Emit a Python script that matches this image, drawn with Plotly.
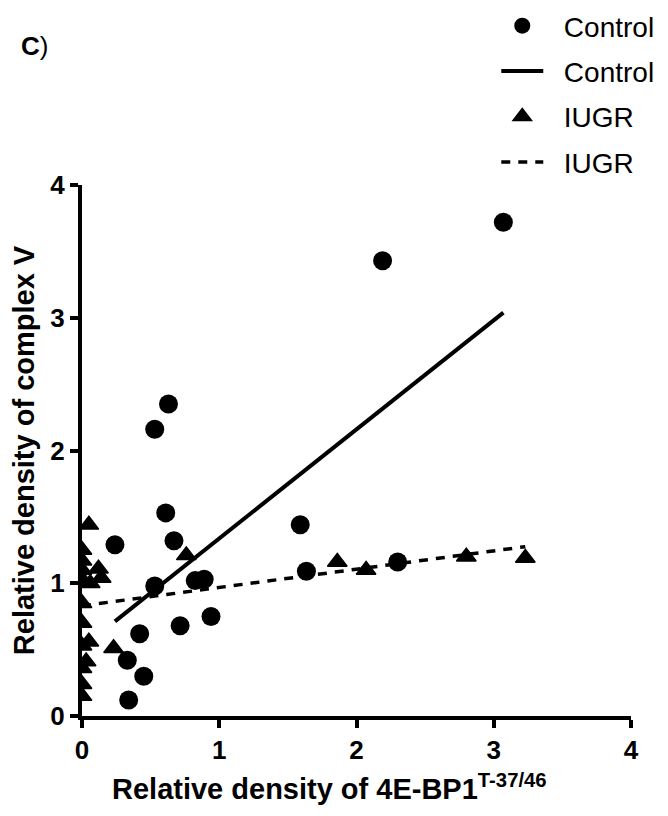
import plotly.graph_objects as go

# ---- data ----
control_x = [0.34, 0.33, 0.45, 0.42, 0.24, 0.61, 0.67, 0.53, 0.825, 0.89,
             0.715, 0.94, 0.53, 0.63, 2.19, 3.07, 1.59, 1.635, 2.30]
control_y = [0.12, 0.42, 0.30, 0.62, 1.29, 1.53, 1.32, 0.98, 1.02, 1.03,
             0.68, 0.75, 2.16, 2.35, 3.43, 3.72, 1.44, 1.09, 1.16]

iugr_x = [0.05, 0.0, 0.0, 0.0, 0.12, 0.14, 0.06, 0.0, 0.0, 0.0, 0.05,
          0.0, 0.03, 0.0, 0.23, 0.0, 0.0, 0.76, 1.86, 2.07, 2.80, 3.23]
iugr_y = [1.44, 1.25, 1.17, 1.10, 1.11, 1.04, 1.00, 1.03, 0.85, 0.70, 0.56,
          0.53, 0.41, 0.36, 0.51, 0.24, 0.15, 1.21, 1.16, 1.10, 1.20, 1.19]

# regression lines (slope, intercept)
control_fit = (0.822, 0.515)
iugr_fit = (0.138, 0.83)

tick_vals = [0, 1, 2, 3, 4]
tick_text = ["0", "1", "2", "3", "4"]

legend_names = ["Control", "Control", "IUGR", "IUGR"]
x_title = "<b>Relative density of 4E-BP1<sup>T-37/46</sup></b>"
y_title = "<b>Relative density of complex V</b>"
panel_label = "<b>C</b>)"


def fit_line(xs, fit):
    lo, hi = min(xs), max(xs)
    return [lo, hi], [fit[0] * lo + fit[1], fit[0] * hi + fit[1]]


cfx, cfy = fit_line(control_x, control_fit)
ifx, ify = fit_line(iugr_x, iugr_fit)

FONT = "Liberation Sans, Arial, Helvetica, sans-serif"
PAD = "\u00a0\u00a0"  # gap between legend symbol and text

fig = go.Figure()
fig.add_trace(go.Scatter(
    x=control_x, y=control_y, mode="markers", name=PAD + legend_names[0],
    legendgroup="g1",
    marker=dict(symbol="circle", size=19, color="black"),
))
fig.add_trace(go.Scatter(
    x=cfx, y=cfy, mode="lines", name=PAD + legend_names[1], legendgroup="g2",
    line=dict(color="black", width=4),
))
fig.add_trace(go.Scatter(
    x=iugr_x, y=iugr_y, mode="markers", name=PAD + legend_names[2],
    legendgroup="g3",
    marker=dict(symbol="triangle-up", size=17, color="black",
                line=dict(color="black", width=1.5)),
))
fig.add_trace(go.Scatter(
    x=ifx, y=ify, mode="lines", name=PAD + legend_names[3], legendgroup="g4",
    line=dict(color="black", width=3.5, dash="9px,8px"),
))

axis_common = dict(
    showgrid=False, zeroline=False, showline=True, linecolor="black",
    linewidth=4, ticks="outside", ticklen=8, tickwidth=4, tickcolor="black",
    tickvals=tick_vals, ticktext=tick_text,
    tickfont=dict(family=FONT, size=26, color="black", weight="bold"),
)

fig.update_xaxes(range=[0, 4], **axis_common)
fig.update_yaxes(range=[0, 4], title=dict(
    text=y_title, font=dict(family=FONT, size=29, color="black"), standoff=9),
    **axis_common)

fig.add_annotation(
    text=x_title, xref="paper", yref="paper", x=0.451, y=-0.133,
    xanchor="center", yanchor="middle", showarrow=False,
    font=dict(family=FONT, size=29, color="black"),
)
fig.add_annotation(
    text=panel_label, xref="paper", yref="paper", x=-0.115, y=1.262,
    xanchor="left", yanchor="middle", showarrow=False,
    font=dict(family=FONT, size=26, color="black"),
)

fig.update_layout(
    width=660, height=808,
    margin=dict(l=74, r=37, t=177, b=100, autoexpand=False),
    paper_bgcolor="white", plot_bgcolor="white",
    showlegend=True,
    legend=dict(
        x=0.7546, y=1.3465, xanchor="left", yanchor="top",
        font=dict(family=FONT, size=28, color="black"),
        tracegroupgap=6, itemwidth=42, bgcolor="rgba(0,0,0,0)",
    ),
    font=dict(family=FONT, color="black"),
)

fig.write_html("out.html")
